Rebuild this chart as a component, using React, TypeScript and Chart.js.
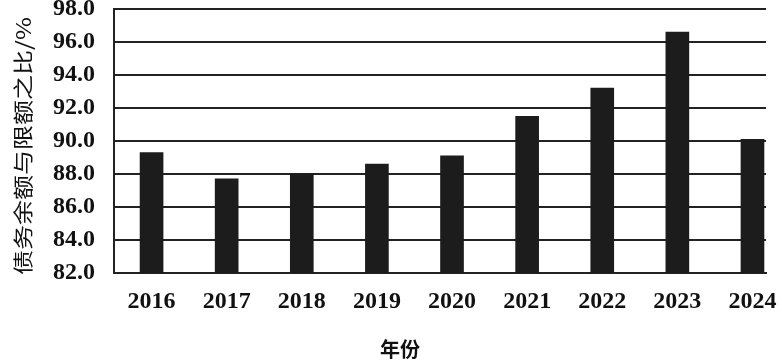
import React, { useEffect, useRef } from "react";
import { Chart, registerables } from "chart.js";

Chart.register(...registerables);

const years = ["2016", "2017", "2018", "2019", "2020", "2021", "2022", "2023", "2024"];
const ratios = [89.3, 87.7, 88.0, 88.6, 89.1, 91.5, 93.2, 96.6, 90.1];
const yTitle = "债务余额与限额之比/%";
const xTitle = "年份";

const titlePlugin = {
  id: "customTitles",
  afterDraw(chart: any) {
    const ctx = chart.ctx;
    ctx.save();
    ctx.fillStyle = "#111";
    ctx.textAlign = "center";
    ctx.textBaseline = "middle";
    ctx.translate(23, 146);
    ctx.rotate(-Math.PI / 2);
    ctx.scale(1, 0.82);
    ctx.font = '25px "Noto Sans CJK SC"';
    ctx.fillText(yTitle, 0, 0);
    ctx.restore();
    ctx.save();
    ctx.fillStyle = "#111";
    ctx.textAlign = "center";
    ctx.textBaseline = "middle";
    ctx.font = 'bold 20px "Noto Sans CJK SC"';
    ctx.fillText(xTitle, 400, 349);
    ctx.restore();
  },
};

const tickFont = { family: '"Liberation Serif", "Times New Roman", serif', size: 24, weight: "bold" as const };

export default function App() {
  const ref = useRef<HTMLCanvasElement | null>(null);
  useEffect(() => {
    document.body.style.margin = "0";
    const canvas = ref.current;
    if (!canvas) return;
    const chart = new Chart(canvas, {
      type: "bar",
      data: {
        datasets: [
          {
            data: ratios.map((v, i) => ({ x: i, y: v })),
            backgroundColor: "#1c1c1c",
            borderWidth: 0,
            barThickness: 23,
            clip: 0,
          } as any,
        ],
      },
      plugins: [titlePlugin],
      options: {
        animation: false,
        responsive: false,
        maintainAspectRatio: false,
        layout: { padding: { top: 9, right: 16, left: 0, bottom: 0 } },
        plugins: { legend: { display: false }, tooltip: { enabled: false } },
        scales: {
          x: {
            type: "linear",
            offset: false,
            min: -0.5,
            max: 8.18,
            grid: { display: false, drawTicks: false },
            border: { display: true, color: "#222", width: 2 },
            afterBuildTicks: (scale: any) => {
              scale.ticks = years.map((_, i) => ({ value: i }));
            },
            afterFit: (scale: any) => {
              scale.height = 90;
              scale.paddingLeft = 0;
              scale.paddingRight = 0;
            },
            ticks: {
              autoSkip: false,
              maxRotation: 0,
              padding: 14,
              color: "#111",
              font: tickFont,
              callback: (v: any) => years[v] ?? "",
            },
          },
          y: {
            min: 82,
            max: 98,
            grid: { color: "#222", lineWidth: 2, drawTicks: false },
            border: { display: true, color: "#222", width: 2 },
            afterFit: (scale: any) => {
              scale.width = 114;
              scale.paddingTop = 0;
              scale.paddingBottom = 0;
            },
            ticks: {
              stepSize: 2,
              padding: 19,
              color: "#111",
              font: tickFont,
              callback: (v: any) => Number(v).toFixed(1),
            },
          },
        },
      },
    });
    return () => chart.destroy();
  }, []);
  return (
    <div style={{ width: 782, height: 363 }}>
      <canvas ref={ref} width={782} height={363} style={{ display: "block" }} />
    </div>
  );
}
